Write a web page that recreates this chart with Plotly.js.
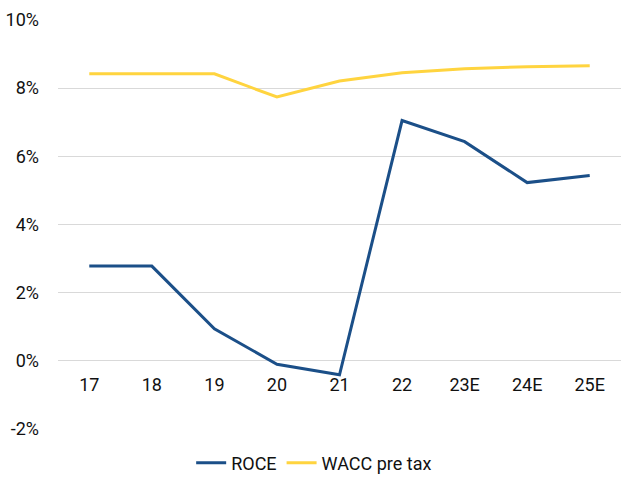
<!DOCTYPE html>
<html>
<head>
<meta charset="utf-8">
<script src="https://cdn.plot.ly/plotly-3.0.1.min.js"></script>
<style>html,body{margin:0;padding:0;background:#fff;}#chart{width:621px;height:477px;}</style>
</head>
<body>
<div id="chart"></div>
<script>
const categories = ["17", "18", "19", "20", "21", "22", "23E", "24E", "25E"];
const roce = [2.78, 2.78, 0.94, -0.1, -0.41, 7.05, 6.43, 5.23, 5.44];
const waccPreTax = [8.42, 8.42, 8.42, 7.74, 8.21, 8.45, 8.57, 8.63, 8.66];
const yTickVals = [-2, 0, 2, 4, 6, 8, 10];
const yTickText = ["-2%", "0%", "2%", "4%", "6%", "8%", "10%"];

const font = {family: "Roboto, sans-serif", size: 18, color: "#111"};

const traces = [
  {x: categories, y: roce, name: "ROCE", type: "scatter", mode: "lines",
   line: {color: "#1B4F88", width: 3}},
  {x: categories, y: waccPreTax, name: "WACC pre tax", type: "scatter", mode: "lines",
   line: {color: "#FFD43F", width: 3}}
];

const layout = {
  width: 621, height: 477,
  margin: {l: 58, r: 0, t: 20, b: 48, autoexpand: false},
  paper_bgcolor: "#fff", plot_bgcolor: "#fff",
  font: font,
  showlegend: true,
  legend: {orientation: "h", x: 0.455, xanchor: "center", y: -0.083, yanchor: "middle",
           font: font, itemwidth: 30},
  xaxis: {type: "category", range: [-0.5, 8.5], showgrid: false, zeroline: false,
          showline: false, ticks: "", anchor: "free", position: 2/12,
          ticklabelstandoff: 11, tickfont: font, fixedrange: true},
  yaxis: {range: [-2, 10], tickvals: yTickVals, ticktext: yTickText,
          showgrid: true, gridcolor: "#D9D9D9", gridwidth: 1, zeroline: false,
          showline: false, ticks: "", ticklabelstandoff: 18, tickfont: font, fixedrange: true}
};

Plotly.newPlot("chart", traces, layout, {displayModeBar: false, staticPlot: true});
</script>
</body>
</html>
